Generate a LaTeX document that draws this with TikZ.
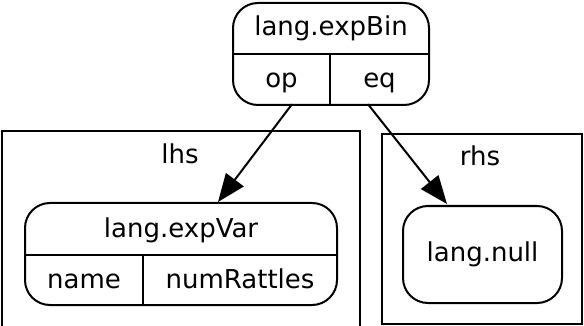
\documentclass[tikz,border=0pt]{standalone}
\usepackage{fontspec}
\setmainfont{DejaVu Sans}
\usetikzlibrary{positioning,arrows.meta}

\begin{document}
\begin{tikzpicture}
	[
	  x=1pt, y=-1pt,
	  every node/.style={font=\fontsize{26}{31}\selectfont, inner sep=0pt,
	    text height=21pt, text depth=4pt},
	  record/.style={draw, line width=2pt, rounded corners=25pt},
	  field/.style={minimum height=50pt},
	  cluster/.style={draw, line width=2pt},
	  edge/.style={line width=2pt, -{Triangle[length=28pt, width=22pt]}},
	]
	\useasboundingbox (0,0) rectangle (584,326);
	% clusters
	\draw [cluster] (2,131) rectangle (360,345);
	\node (lhs) at (180,155.5) {lhs};
	\draw [cluster] (382,134) rectangle (582,324);
	\node (rhs) at (480,157.5) {rhs};
	% top record
	\node (bin) [record, minimum width=196pt, minimum height=102pt] at (331,54) {};
	\node (bintitle) at (331,27.5) {lang.expBin};
	\node (op) [field, minimum width=97pt] at (281.5,79) {op};
	\node (eq) [field, minimum width=99pt] at (379.5,79) {eq};
	\draw [line width=2pt] (op.north west) -- (eq.north east)
	  (op.north east) -- (op.south east);
	% left record
	\node (var) [record, minimum width=312pt, minimum height=102pt] at (181,254) {};
	\node (vartitle) at (181,229) {lang.expVar};
	\node (name) [field, minimum width=118pt] at (84,280) {name};
	\node (num) [field, minimum width=194pt] at (240,280) {numRattles};
	\draw [line width=2pt] (name.north west) -- (num.north east)
	  (name.north east) -- (name.south east);
	% right node
	\node (null) [record, minimum width=159pt, minimum height=97pt] at (482.5,254.5) {};
	\node (nulltext) at (482.5,252.5) {lang.null};
	% edges
	\draw [edge] ([xshift=10.5pt]op.south) -- ([xshift=37pt]var.north);
	\draw [edge] ([xshift=-11.5pt]eq.south) -- ([xshift=-35.5pt, yshift=1pt]null.north);
\end{tikzpicture}
\end{document}
